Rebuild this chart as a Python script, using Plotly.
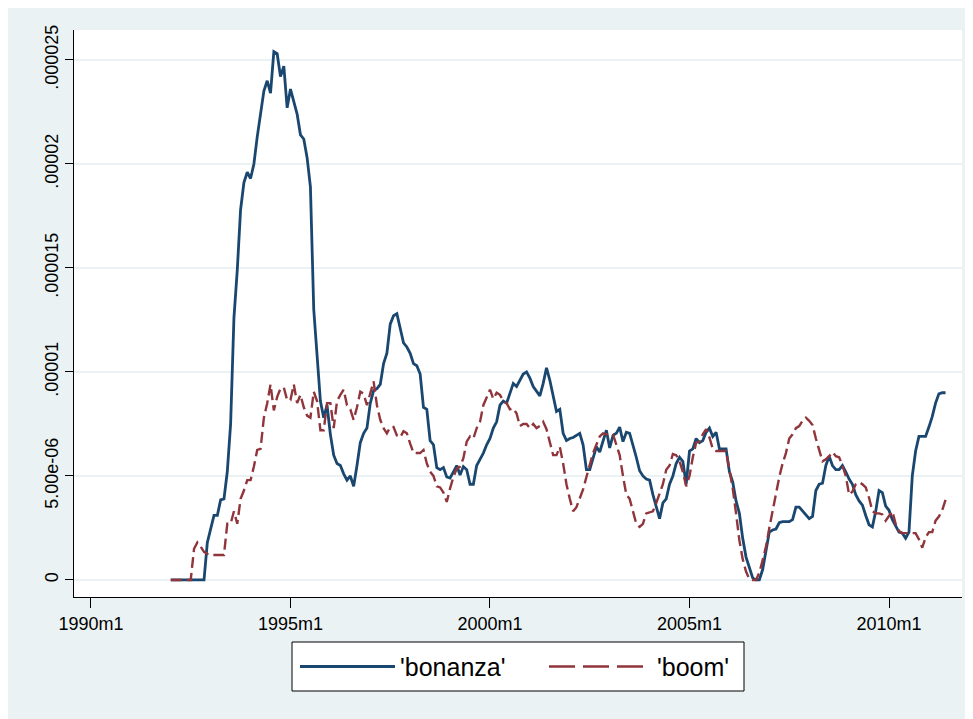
import plotly.graph_objects as go

# monthly series, values in units of 1e-6, starting 1992m1
bonanza = [
    0, 0, 0, 0, 0, 0, 0, 0, 0, 0,
    0, 1.8, 2.5, 3.1, 3.1, 3.85, 3.9, 5.2, 7.5, 12.6,
    14.9, 17.8, 19.1, 19.6, 19.3, 20.0, 21.3, 22.4, 23.5, 24.0,
    23.4, 25.4, 25.3, 24.2, 24.7, 22.7, 23.6, 23.0, 22.4, 21.4,
    21.2, 20.3, 18.9, 13.0, 10.9, 8.6, 7.8, 8.4, 7.0, 6.0,
    5.6, 5.5, 5.1, 4.8, 5.0, 4.5, 5.5, 6.6, 7.05, 7.3,
    8.5, 9.1, 9.2, 9.4, 10.4, 10.9, 12.3, 12.7, 12.8, 12.1,
    11.4, 11.2, 10.9, 10.4, 10.3, 9.9, 8.3, 8.2, 6.7, 6.5,
    5.4, 5.3, 5.4, 4.95, 4.9, 5.2, 5.5, 5.05, 5.45, 5.3,
    4.6, 4.6, 5.5, 5.8, 6.1, 6.5, 6.8, 7.3, 7.6, 8.4,
    8.6, 8.5, 9.0, 9.45, 9.3, 9.6, 9.9, 10.0, 9.7, 9.3,
    9.05, 8.85, 9.45, 10.2, 9.6, 8.8, 8.1, 8.2, 7.05, 6.7,
    6.8, 6.85, 6.95, 7.05, 6.5, 5.3, 5.3, 5.85, 6.4, 6.15,
    6.7, 7.2, 6.35, 6.95, 7.05, 7.35, 6.65, 7.1, 7.05, 6.5,
    5.9, 5.25, 5.0, 4.85, 4.8, 4.1, 3.5, 2.95, 3.7, 3.9,
    4.6, 5.0, 5.6, 5.9, 5.7, 4.6, 6.2, 6.3, 6.8, 6.6,
    6.7, 7.1, 7.3, 6.9, 7.1, 6.3, 6.3, 6.3, 5.2, 4.7,
    3.8, 3.2, 2.0, 1.1, 0.6, 0.1, 0, 0, 0.5, 1.5,
    2.3, 2.4, 2.45, 2.75, 2.8, 2.8, 2.8, 2.9, 3.5, 3.5,
    3.3, 3.1, 2.95, 3.05, 4.3, 4.6, 4.65, 5.5, 5.95, 5.5,
    5.3, 5.3, 5.5, 5.2, 4.85, 4.6, 4.1, 3.8, 3.6, 3.1,
    2.65, 2.55, 3.3, 4.3, 4.2, 3.55, 3.35, 2.9, 2.6, 2.3,
    2.25, 2.0, 2.3, 5.0, 6.2, 6.9, 6.9, 6.9, 7.35, 7.85,
    8.5, 8.95, 9.0, 9.0,
]

boom = [
    0, 0, 0, 0, 0, 0, 0, 1.5, 1.8, 1.6,
    1.35, 1.25, 1.2, 1.2, 1.2, 1.2, 1.2, 2.7, 2.7, 3.3,
    2.7, 3.9, 4.3, 4.8, 4.8, 5.45, 6.25, 6.3, 7.8, 8.5,
    9.4, 8.15, 8.8, 9.2, 9.25, 8.65, 8.65, 9.4, 8.5, 8.9,
    8.3, 7.9, 7.8, 9.05, 8.6, 7.2, 7.2, 8.5, 8.5, 7.3,
    8.6, 8.9, 9.15, 8.4, 8.2, 7.7, 8.3, 9.05, 8.95, 8.4,
    9.0, 9.55, 8.4, 7.7, 7.3, 7.05, 7.35, 7.35, 6.95, 6.85,
    7.15, 7.05, 6.55, 6.1, 6.1, 6.1, 6.25, 5.6, 5.2, 5.0,
    4.5, 4.45, 4.2, 3.75, 4.4, 4.95, 5.35, 5.45, 5.85, 6.65,
    6.9, 6.8, 7.3, 7.6, 8.4, 8.75, 9.15, 8.7, 9.0, 8.9,
    8.6, 8.5, 8.2, 8.25, 8.0, 7.4, 7.5, 7.5, 7.3, 7.5,
    7.3, 7.4, 7.6, 7.25, 6.65, 6.0, 6.0, 6.4, 5.6, 4.6,
    3.9, 3.3, 3.5, 3.9, 4.35, 4.95, 5.5, 6.1, 6.5, 6.9,
    7.05, 7.0, 7.0, 7.0, 6.5, 6.0, 5.0, 4.1, 3.9, 3.3,
    2.7, 2.55, 2.7, 3.2, 3.25, 3.3, 3.7, 4.2, 4.6, 5.3,
    5.5, 6.05, 6.0, 5.7, 5.2, 4.5, 5.0, 5.9, 6.6, 6.65,
    7.0, 7.25, 6.85, 6.3, 6.2, 6.2, 6.2, 6.2, 5.3, 4.4,
    3.2, 1.9, 1.0, 0.4, 0.05, 0, 0, 0.35, 0.95, 1.6,
    2.5, 3.3, 4.2, 4.95, 5.6, 6.1, 6.8, 7.0, 7.3, 7.4,
    7.65, 7.8, 7.65, 7.45, 6.8, 6.3, 5.7, 5.8, 5.95, 6.15,
    5.95, 5.9, 5.5, 5.0, 4.1, 4.25, 4.6, 4.7, 4.6, 4.45,
    3.95, 3.3, 3.2, 3.2, 3.15, 2.85, 3.1, 3.3, 2.7, 2.35,
    2.25, 2.25, 2.25, 2.25, 2.25, 1.95, 1.55, 2.05, 2.3, 2.3,
    2.85, 3.05, 3.35, 3.85,
]

# Stata %tm months (months since 1960m1); 1992m1 = 384
start_month = 384
months = [start_month + i for i in range(len(bonanza))]

x_tickvals = [360, 420, 480, 540, 600]
x_ticktext = ["1990m1", "1995m1", "2000m1", "2005m1", "2010m1"]
y_tickvals = [0, 5e-6, 1e-5, 1.5e-5, 2e-5, 2.5e-5]
y_ticktext = ["0", "5.00e-06", ".00001", ".000015", ".00002", ".000025"]

BLUE = "#1A476F"
RED = "#90353B"
BG = "#EAF2F3"
FONT = "Liberation Sans, Arial, sans-serif"

fig = go.Figure()
fig.add_trace(go.Scatter(
    x=months, y=[v * 1e-6 for v in bonanza], mode="lines", name="'bonanza'",
    line=dict(color=BLUE, width=2.8),
))
fig.add_trace(go.Scatter(
    x=months, y=[v * 1e-6 for v in boom], mode="lines", name="'boom'",
    line=dict(color=RED, width=2.4, dash="11px,5px"),
))

# plot area sits at 74..962 x 30..597 on screen; helpers for paper coords
def px_x(p):
    return (p - 74) / 888


def px_y(p):
    return (597 - p) / 567


# legend drawn by hand to get Stata's long key samples
shapes = [
    dict(type="rect", xref="paper", yref="paper",
         x0=px_x(292), x1=px_x(744), y0=px_y(691), y1=px_y(642),
         fillcolor="white", line=dict(color="black", width=1)),
    dict(type="line", xref="paper", yref="paper",
         x0=px_x(300), x1=px_x(395), y0=px_y(666.5), y1=px_y(666.5),
         line=dict(color=BLUE, width=2.8)),
    dict(type="line", xref="paper", yref="paper",
         x0=px_x(549), x1=px_x(643), y0=px_y(666.5), y1=px_y(666.5),
         line=dict(color=RED, width=2.4, dash="26px,8px")),
]

annotations = [
    dict(text="'bonanza'", xref="paper", yref="paper", x=px_x(398), y=px_y(666.5),
         xanchor="left", yanchor="middle", showarrow=False,
         font=dict(size=25, color="black", family=FONT)),
    dict(text="'boom'", xref="paper", yref="paper", x=px_x(655), y=px_y(666.5),
         xanchor="left", yanchor="middle", showarrow=False,
         font=dict(size=25, color="black", family=FONT)),
]

fig.update_layout(
    width=973, height=719,
    margin=dict(l=66, r=19, t=22, b=130, autoexpand=False),
    paper_bgcolor=BG,
    plot_bgcolor="white",
    font=dict(family=FONT, size=18, color="black"),
    showlegend=False,
    shapes=shapes,
    annotations=annotations,
)
fig.update_xaxes(
    range=[354.9, 621.95],
    tickvals=x_tickvals, ticktext=x_ticktext,
    showgrid=False, zeroline=False,
    showline=True, linecolor="black", linewidth=1,
    ticks="outside", ticklen=10, tickcolor="black", tickwidth=1,
    tickfont=dict(size=18),
)
fig.update_yaxes(
    range=[-0.82e-6, 26.44e-6],
    tickvals=y_tickvals, ticktext=y_ticktext,
    showgrid=True, gridcolor=BG, gridwidth=2, zeroline=False,
    showline=True, linecolor="black", linewidth=1,
    ticks="outside", ticklen=8, tickcolor="black", tickwidth=1,
    tickangle=-90, tickfont=dict(size=18),
)

fig.write_html("out.html")
